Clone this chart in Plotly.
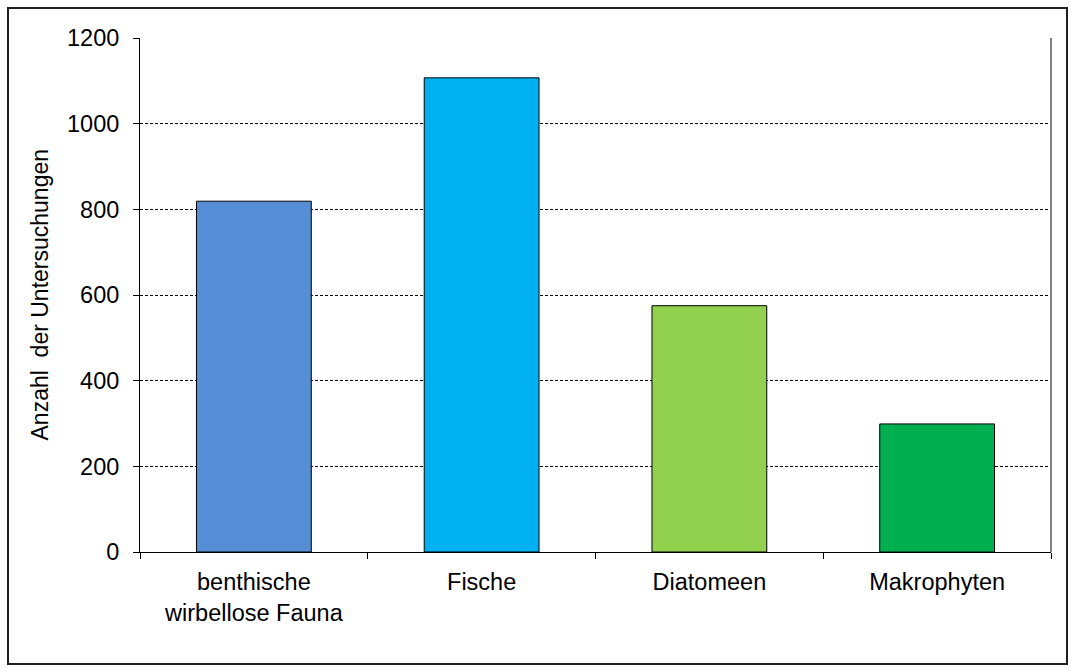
import plotly.graph_objects as go

categories = ["benthische<br>wirbellose Fauna", "Fische", "Diatomeen", "Makrophyten"]
values = [819, 1107, 575, 299]
colors = ["#558ED5", "#00B0F0", "#92D050", "#00B050"]
y_ticks = [0, 200, 400, 600, 800, 1000, 1200]
y_title = "Anzahl\u00a0 der Untersuchungen"

FONT = "Liberation Sans, Arial, sans-serif"

W, H = 1075, 672
L, R, T, B = 140, 24, 38, 120
pw = W - L - R
ph = H - T - B

fig = go.Figure(go.Bar(
    x=categories, y=values,
    marker=dict(color=colors, line=dict(color="#000000", width=1)),
    width=0.504,
))

def px_x(px):
    return (px - L) / pw

def px_y(py):
    return (H - B - py) / ph

fig.update_layout(
    width=W, height=H,
    margin=dict(l=L, r=R, t=T, b=B, pad=0),
    paper_bgcolor="white", plot_bgcolor="white",
    showlegend=False,
    font=dict(family=FONT, size=23, color="#000000"),
    xaxis=dict(
        showline=True, linecolor="#000000", linewidth=1,
        ticks="outside", ticklen=6, tickcolor="#000000", tickwidth=1,
        tickson="boundaries", showgrid=False,
        tickfont=dict(family=FONT, size=23.5, color="#000000"),
        ticklabelstandoff=9,
    ),
    yaxis=dict(
        range=[0, 1200], tickvals=y_ticks,
        showline=True, linecolor="#000000", linewidth=1,
        ticks="outside", ticklen=6, tickcolor="#000000", tickwidth=1,
        showgrid=True, gridcolor="#000000", gridwidth=1, griddash="3px,2px",
        zeroline=False,
        tickfont=dict(family=FONT, size=23.5, color="#000000"),
        ticklabelstandoff=9,
    ),
    annotations=[
        dict(text=y_title, xref="paper", yref="paper", x=px_x(39.5), y=0.5,
             xanchor="center", yanchor="middle", textangle=-90, showarrow=False,
             font=dict(family=FONT, size=23, color="#000000")),
    ],
    shapes=[
        dict(type="line", xref="paper", yref="paper", x0=1, x1=1, y0=0, y1=1,
             line=dict(color="#808080", width=2)),
        dict(type="rect", xref="paper", yref="paper",
             x0=px_x(8), x1=px_x(1067), y0=px_y(664), y1=px_y(8),
             line=dict(color="#1f1f1f", width=2), fillcolor="rgba(0,0,0,0)"),
    ],
)

fig.write_html("out.html")
